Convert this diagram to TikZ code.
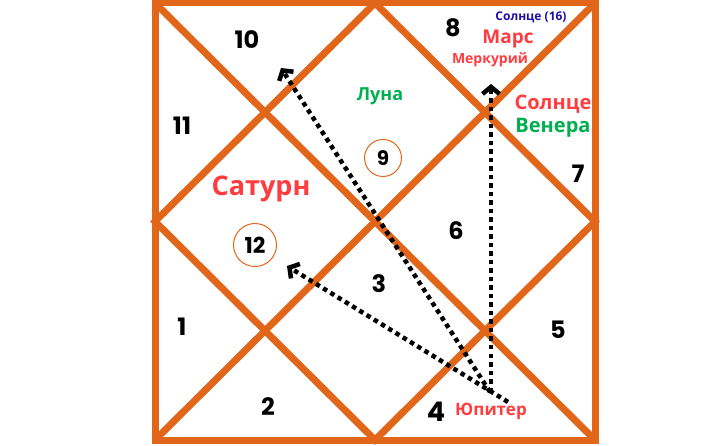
\documentclass[tikz,border=0pt]{standalone}
\usepackage{fontspec}
\setmainfont{Open Sans}
\newfontfamily\numfont{Poppins}
\usetikzlibrary{arrows.meta}
\usetikzlibrary{positioning}
\definecolor{chartorange}{RGB}{226,102,26}
\definecolor{planetred}{RGB}{255,60,64}
\definecolor{planetgreen}{RGB}{0,176,80}
\definecolor{planetblue}{RGB}{28,14,168}
\tikzset {
  chart line/.style = {
    draw = chartorange,
    line width = 7pt,
    line join = miter
  },
  % aspect of a planet
  aspect/.style = {
    draw = black,
    line width = 4.5pt,
    dash pattern = on 4.5pt off 4pt,
    -{Straight Barb[length=7pt,width=17pt,line width=4.5pt]}
  }
}
\tikzset {
  % house number
  house/.style = {
    inner sep = 0,
    font = \numfont\bfseries\fontsize{24}{24}\selectfont
  },
  % circled house number
  ring/.style = {
    house,
    circle,
    draw = chartorange,
    line width = 1pt
  },
  planet/.style = {
    inner sep = 0,
    font = \bfseries\fontsize{#1}{#1}\selectfont
  }
}
\begin{document}
\begin{tikzpicture}[x=1pt,y=-1pt]
    \useasboundingbox (0,0) rectangle (723,446);
    \coordinate (tl) at (155,3);
    \coordinate (tr) at (595,3);
    \coordinate (br) at (595,440);
    \coordinate (bl) at (155,440);
    \coordinate (top) at (375,3);
    \coordinate (right) at (595,221.5);
    \coordinate (bottom) at (375,440);
    \coordinate (left) at (155,221.5);

    \draw[chart line] (tl) -- (br);
    \draw[chart line] (tr) -- (bl);
    \draw[chart line] (top) -- (right) -- (bottom) -- (left) -- cycle;
    \draw[chart line] (tl) rectangle (br);

    \node[house] (h10) at (247,40) {10};
    \node[house] (h8) at (453,28) {8};
    \node[house] (h11) at (182,126) {11};
    \node[ring, minimum size=37pt, font=\numfont\bfseries\fontsize{20}{20}\selectfont] (h9) at (383,158) {9};
    \node[house] (h7) at (578,174) {7};
    \node[ring, minimum size=43pt, font=\numfont\bfseries\fontsize{22}{22}\selectfont] (h12) at (255,245) {12};
    \node[house] (h6) at (456,231) {6};
    \node[house] (h3) at (379,284) {3};
    \node[house] (h1) at (182,327) {1};
    \node[house] (h5) at (558,330) {5};
    \node[house] (h2) at (268,407) {2};
    \node[house, font=\numfont\bfseries\fontsize{27}{27}\selectfont] (h4) at (436,412) {4};

    \node[planet=12, text=planetblue] (sun16) at (531,17) {Солнце (16)};
    \node[planet=19, text=planetred] (mars) at (508,39) {Марс};
    \node[planet=14, text=planetred] (merc) at (490,60) {Меркурий};
    \node[planet=18, text=planetgreen] (moon) at (380,96) {Луна};
    \node[planet=20, text=planetred] (sun) at (553,104) {Солнце};
    \node[planet=20, text=planetgreen] (venus) [below=5pt of sun] {Венера};
    \node[planet=27, text=planetred] (saturn) at (261,189) {Сатурн};
    \node[planet=17, text=planetred] (jupiter) at (491,411) {Юпитер};

    \coordinate (jup-a) at (490,392);
    \coordinate (jup-b) at (508,402);
    \coordinate (jup-c) at (491,392);
    \coordinate (to-10) at (281,68);
    \coordinate (to-12) at (287,266);
    \coordinate (to-8) at (491,84);

    \draw[aspect] (jup-a) -- (to-10);
    \draw[aspect] (jup-b) -- (to-12);
    \draw[aspect] (jup-c) -- (to-8);
  \end{tikzpicture}
\end{document}
